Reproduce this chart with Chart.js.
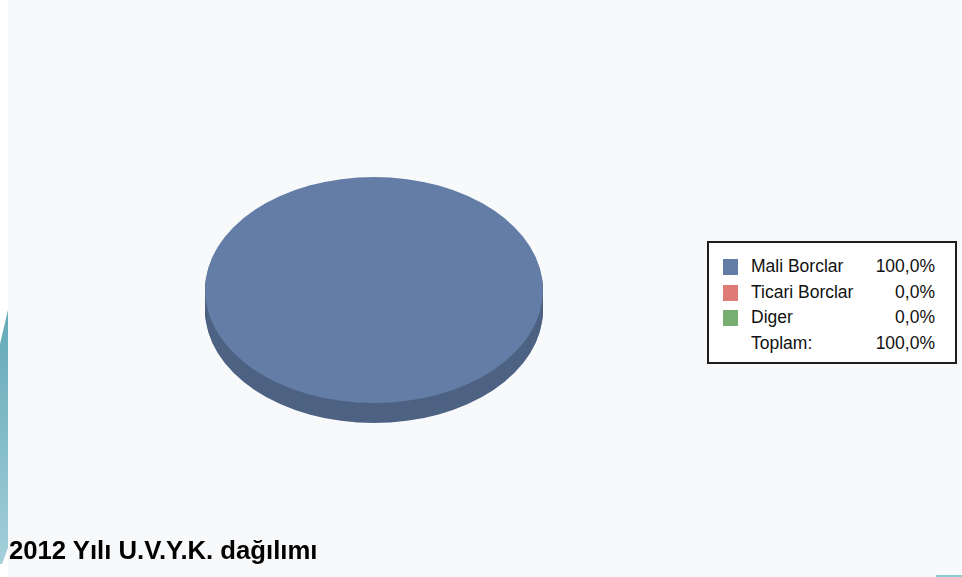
<!DOCTYPE html>
<html>
<head>
<meta charset="utf-8">
<script src="https://cdn.jsdelivr.net/npm/chart.js@4/dist/chart.umd.min.js"></script>
<style>
  html,body{margin:0;padding:0;}
  body{width:962px;height:577px;background:#f8f9fb;position:relative;overflow:hidden;font-family:"Liberation Sans",Arial,sans-serif;}
  #strip{position:absolute;left:0;top:0;width:8px;height:577px;background:#ffffff;}
  #wedge{position:absolute;left:0;top:310px;width:8px;height:254px;
    background:linear-gradient(#62a9b6,#a3cfda);
    clip-path:polygon(0 34px,8px 0,8px 238px,2px 254px,0 254px);}
  #br{position:absolute;left:936px;top:575px;width:26px;height:2px;background:#8ecad3;}
  #c{position:absolute;left:0;top:0;}
  #title{position:absolute;left:9px;top:536px;font-weight:bold;font-size:25.7px;color:#000;white-space:nowrap;}
  #legend{position:absolute;left:707px;top:241px;width:246px;height:119px;background:#fff;border:2px solid #1e1e1e;}
  #legend table{position:absolute;left:14px;top:11px;border-collapse:collapse;font-size:17.5px;color:#111;}
  #legend td{padding:0;height:25.5px;line-height:25.5px;vertical-align:middle;white-space:nowrap;}
  .sw{width:15px;height:16px;display:inline-block;vertical-align:middle;}
  td.s{width:28px;min-width:28px;}
  td.l{width:122px;min-width:122px;}
  td.v{width:62px;min-width:62px;text-align:right;}
</style>
</head>
<body>
<div id="strip"></div>
<div id="wedge"></div>
<div id="br"></div>
<canvas id="c" width="962" height="577"></canvas>
<div id="title">2012 Yılı U.V.Y.K. dağılımı</div>
<div id="legend"><table id="lt"></table></div>
<script>
const categories = ["Mali Borclar", "Ticari Borclar", "Diger"];
const values = [100, 0, 0];
const colors = ["#637da6", "#e07a74", "#77ad70"];
const sideColors = ["#4e6283", "#b3615c", "#5f8a59"];
const totalLabel = "Toplam:";

function fmt(v){ return v.toFixed(1).replace('.', ',') + '%'; }
const total = values.reduce((a,b)=>a+b,0);
const lt = document.getElementById('lt');
categories.forEach((c,i)=>{
  const tr = document.createElement('tr');
  tr.innerHTML = '<td class="s"><span class="sw" style="background:'+colors[i]+'"></span></td><td class="l">'+c+'</td><td class="v">'+fmt(values[i]/total*100)+'</td>';
  lt.appendChild(tr);
});
const trT = document.createElement('tr');
trT.innerHTML = '<td class="s"></td><td class="l">'+totalLabel+'</td><td class="v">'+fmt(100)+'</td>';
lt.appendChild(trT);

const TILT = 113/169;
const DEPTH = 20;
const pie3d = {
  id: 'pie3d',
  beforeDatasetsDraw(chart){
    const ctx = chart.ctx;
    const meta = chart.getDatasetMeta(0);
    for (let d = DEPTH; d >= 1; d--) {
      meta.data.forEach((arc, i)=>{
        const p = arc.getProps(['x','y','outerRadius','startAngle','endAngle'], true);
        if (p.endAngle - p.startAngle <= 0) return;
        ctx.save();
        ctx.fillStyle = sideColors[i];
        ctx.beginPath();
        ctx.moveTo(p.x, p.y + d);
        ctx.ellipse(p.x, p.y + d, p.outerRadius, p.outerRadius*TILT, 0, p.startAngle, p.endAngle);
        ctx.closePath();
        ctx.fill();
        ctx.restore();
      });
    }
    const a = meta.data[0];
    ctx.save();
    ctx.translate(a.x, a.y);
    ctx.scale(1, TILT);
    ctx.translate(-a.x, -a.y);
  },
  afterDatasetsDraw(chart){
    chart.ctx.restore();
  }
};

new Chart(document.getElementById('c'), {
  type: 'pie',
  data: { labels: categories, datasets: [{ data: values, backgroundColor: colors, borderWidth: 0 }] },
  options: {
    responsive: false,
    animation: false,
    events: [],
    layout: { padding: { left: 205, top: 121, right: 419, bottom: 118 } },
    plugins: { legend: { display: false }, title: { display: false }, tooltip: { enabled: false } }
  },
  plugins: [pie3d]
});
</script>
</body>
</html>
